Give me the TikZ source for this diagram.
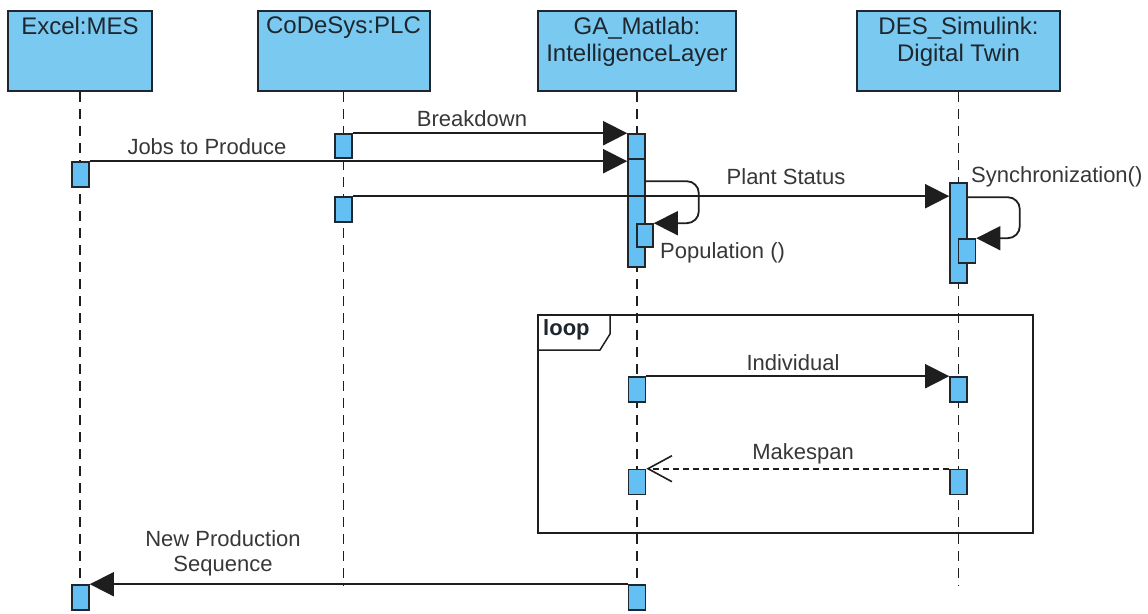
\documentclass[tikz,border=0pt]{standalone}
\usepackage{fontspec}
\setmainfont{Liberation Sans}
\usetikzlibrary{arrows.meta,calc}
\definecolor{hdrfill}{RGB}{122,201,241}
\definecolor{actfill}{RGB}{100,192,242}
\definecolor{edge}{RGB}{30,38,46}
\definecolor{linec}{RGB}{30,30,30}
\definecolor{txt}{RGB}{55,55,55}
\tikzset{
  hdr/.style={draw=edge, line width=2pt, fill=hdrfill, minimum width=#1, minimum height=80pt, inner sep=0pt},
  htext/.style={anchor=north, inner sep=0pt, align=center, text=edge, font=\fontsize{24}{27}\selectfont},
  life/.style={draw=linec, line width=1.9pt, dash pattern=on 10pt off 7pt},
  actbox/.style={draw=edge, line width=1.6pt, fill=actfill, minimum width=17pt, minimum height=#1, inner sep=0pt},
  msg/.style={draw=linec, line width=1.8pt, -{Triangle[length=24pt,width=24pt]}},
  reply/.style={draw=linec, line width=1.6pt, dash pattern=on 6pt off 4pt, -{Straight Barb[length=24pt,width=26pt,line width=1.6pt]}},
  lbl/.style={inner sep=0pt, text=txt, font=\fontsize{22}{25}\selectfont, align=center},
}
\begin{document}
\begin{tikzpicture}[x=1pt,y=-1pt]
\useasboundingbox (0,0) rectangle (1148,613);

% header boxes
\node[hdr=144pt] (mes) at (80,51) {};
\node[hdr=172pt] (plc) at (343.5,51) {};
\node[hdr=198pt] (ga) at (637,51) {};
\node[hdr=203pt] (des) at (958.5,51) {};
\node[htext] (mesT) at (80,16.5) {Excel:MES};
\node[htext] (plcT) at (343.5,16.5) {CoDeSys:PLC};
\node[htext] (gaT) at (637,16.5) {GA\_Matlab:\\IntelligenceLayer};
\node[htext] (desT) at (958.5,16.5) {DES\_Simulink:\\Digital Twin};

% lifeline ends
\coordinate (mesEnd) at (80,586);
\coordinate (plcEnd) at (343.5,586);
\coordinate (gaEnd) at (637,586);
\coordinate (desEnd) at (958.5,586);
\draw[life] (mes.south) -- (mesEnd);
\draw[life] (plc.south) -- (plcEnd);
\draw[life] (ga.south) -- (gaEnd);
\draw[life] (des.south) -- (desEnd);

% loop frame
\coordinate (fTL) at (538,315);
\coordinate (fBR) at (1033,533);
\draw[draw=linec, line width=1.8pt] (fTL) rectangle (fBR);
\draw[draw=linec, line width=1.5pt] (fTL) -- ++(72,0) -- ++(0,19) -- ++(-10,16) -- ++(-62,0);
\node[anchor=west, inner sep=0pt, text=edge, font=\fontsize{22}{25}\selectfont\bfseries] (loopT) at (543,330) {loop};

% activation boxes
\node[actbox=24pt] (cA) at (343.5,146) {};
\node[actbox=25pt] (eA) at (80.5,174.5) {};
\node[actbox=25pt] (gA) at (636.5,146.5) {};
\node[actbox=108pt] (gB) at (636.5,213) {};
\node[actbox=23pt, minimum width=16pt] (gC) at (645,235.5) {};
\node[actbox=25pt] (cB) at (343.5,209.5) {};
\node[actbox=100pt] (dA) at (958.5,233) {};
\node[actbox=24pt] (dB) at (967,251) {};
\node[actbox=25pt] (gD) at (637,389.5) {};
\node[actbox=25pt] (dC) at (958.5,389.5) {};
\node[actbox=25pt] (gE) at (637,482) {};
\node[actbox=25pt] (dD) at (958.5,482) {};
\node[actbox=25pt] (gF) at (637,597.5) {};
\node[actbox=25pt] (eB) at (80.5,597.5) {};

% messages
\draw[msg] (cA.north east) -- (cA.north east -| gA.west);
\node[lbl] (lBreak) at (472,119) {Breakdown};

\draw[msg] (eA.north east) -- (eA.north east -| gB.west);
\node[lbl] (lJobs) at (207,147) {Jobs to Produce};

\draw[msg] (cB.north east) -- (cB.north east -| dA.west);
\node[lbl] (lPlant) at (786,177) {Plant Status};

\draw[msg, rounded corners=12pt] ($(gB.north east)+(0,23)$) -- ++(53,0) |- (gC.north east);
\node[lbl, anchor=west] (lPop) at (660,253) {Population ()};

\draw[msg, rounded corners=12pt] ($(dA.north east)+(0,15)$) -- ++(52,0) |- (dB.north east);
\node[lbl, anchor=west] (lSync) at (971,177) {Synchronization()};

\draw[msg] (gD.north east) -- (gD.north east -| dC.west);
\node[lbl] (lInd) at (793,363) {Individual};

\draw[reply] (dD.north west) -- (dD.north west -| gE.east);
\node[lbl] (lMake) at (803,454) {Makespan};

\draw[msg] (gF.north west) -- (gF.north west -| eB.east);
\node[lbl] (lNew) at (223,553) {New Production\\Sequence};
\end{tikzpicture}
\end{document}
